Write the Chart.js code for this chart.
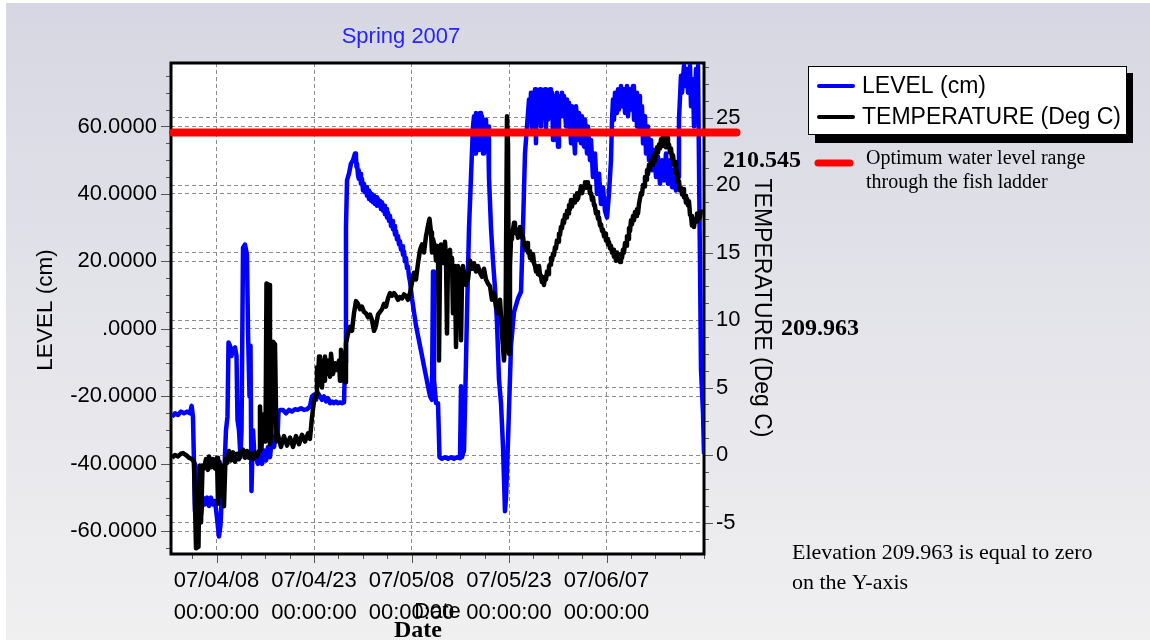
<!DOCTYPE html>
<html>
<head>
<meta charset="utf-8">
<script src="https://cdn.jsdelivr.net/npm/chart.js@4.4.0/dist/chart.umd.min.js"></script>
<style>
html,body{margin:0;padding:0;background:#fff;}
canvas{display:block;}
</style>
</head>
<body>
<canvas id="c" width="1150" height="640"></canvas>
<script>
// ---------- DATA (days since 2007-04-01 00:00) ----------
const levelDays = [
0.15,0.62,1.08,1.54,2.00,2.46,2.92,3.18,3.38,3.54,
3.69,4.00,4.31,4.62,4.92,5.23,5.54,5.85,6.15,6.46,
6.77,7.08,7.38,7.62,7.85,8.15,8.46,8.69,8.85,9.08,
9.31,9.54,9.85,10.08,10.23,10.46,10.69,10.85,11.08,11.38,
11.69,11.85,12.08,12.23,12.38,12.62,12.85,13.08,13.38,13.69,
14.00,14.31,14.62,14.92,15.23,15.54,15.85,16.15,16.38,16.54,
16.77,17.23,17.69,18.15,18.62,19.08,19.54,20.00,20.46,20.92,
21.38,21.69,22.00,22.31,22.62,22.92,23.23,23.54,23.85,24.15,
24.46,24.77,25.08,25.38,25.69,26.00,26.31,26.62,26.77,26.92,
27.08,27.38,27.69,28.00,28.31,28.46,28.54,28.62,28.77,28.85,
28.92,29.08,29.23,29.38,29.54,29.69,29.85,30.00,30.15,30.31,
30.46,30.62,30.77,30.92,31.08,31.23,31.38,31.54,31.69,31.85,
32.00,32.15,32.31,32.46,32.62,32.77,32.92,33.08,33.23,33.38,
33.54,33.69,33.85,34.00,34.15,34.31,34.46,34.62,34.77,34.92,
35.08,35.23,35.38,35.54,35.69,35.85,36.00,36.15,36.31,36.46,
36.62,36.77,37.08,37.38,37.69,38.00,38.31,38.62,38.92,39.23,
39.54,39.85,40.15,40.31,40.46,40.77,41.08,41.31,41.69,42.15,
42.62,43.08,43.54,44.00,44.46,44.62,44.77,45.08,45.38,45.54,
45.85,46.15,46.46,46.62,46.77,46.92,47.08,47.23,47.38,47.54,
47.69,47.85,48.00,48.15,48.31,48.46,48.62,48.77,48.92,49.23,
49.54,49.85,50.15,50.46,50.77,51.08,51.38,51.54,51.85,52.31,
52.77,53.38,53.85,54.15,54.46,54.77,55.08,55.23,55.38,55.54,
55.69,55.85,56.00,56.15,56.31,56.46,56.77,56.92,57.08,57.23,
57.54,57.69,57.85,58.00,58.31,58.46,58.62,58.77,58.92,59.23,
59.38,59.54,59.69,60.00,60.15,60.31,60.46,60.77,60.92,61.08,
61.23,61.54,61.69,62.15,62.31,62.62,62.77,63.08,63.23,63.54,
63.69,64.00,64.15,64.46,64.62,64.92,65.23,65.54,65.85,66.15,
66.46,66.77,67.08,67.38,67.69,67.85,68.00,68.15,68.31,68.62,
68.77,68.92,69.23,69.38,69.69,69.85,70.15,70.31,70.62,70.77,
71.08,71.23,71.54,71.69,72.00,72.15,72.46,72.62,72.92,73.08,
73.38,73.54,73.85,74.00,74.31,74.62,74.92,75.23,75.54,75.85,
76.15,76.46,76.77,77.08,77.38,77.69,78.00,78.15,78.46,78.62,
78.92,79.08,79.38,79.54,79.85,80.00,80.31,80.46,80.77,80.92,
81.08,81.38,81.54,81.85,82.00
];
const levelValues = [
-26,-25,-25.5,-24.5,-25,-24.5,-25,-22.8,-26,-40,
-54,-56,-52,-55,-50,-52,-50,-52.5,-50,-52,
-51,-56,-61.5,-58,-48,-45,-30,-26,-4,-5,
-8,-6,-5.5,-8,-27,-30,-38,-30,24,25,
22,-1,-20,-5,-48,-30,-38,-38,-40,-37,
-40,-36,-39,-35,-38,-32,-35,-31,-33,-24.5,
-24,-24,-25,-24,-24.5,-23.8,-24,-23.5,-24,-23.8,
-23,-20,-19.5,-21,-19,-20,-21,-20,-21.5,-20.5,
-22,-21.5,-22,-21.5,-22,-21.8,-22,-21.8,-10,30,
44,46,49,50,52,51,48,49,45.5,47,
44.5,46,43,44.5,41,43,40.5,42,39.5,41,
38.5,40.5,38,40,37.5,39.5,37,39,36.5,38.5,
36.5,38,35.5,37.5,35,36.5,34,35.5,33,34.5,
32,33.5,30.5,32,29.5,30.5,28,29,26.5,27.5,
25,26,23.5,24.5,22,23,20,21,18,18.5,
15.5,14,9,5,1,-2,-5,-8,-11,-14,
-17,-20,-21,17,-15,-22,-22,-38,-38.5,-38,
-38.5,-38,-38.5,-38,-38.3,-17,-38,-36,-10,5,
30,45,60,63,52,64,55,63,53,64,
56,63,52,62,55,62,53,60,45,30,
20,12,2,-15,-22,-35,-54,-50,-33,-5,
5,9,11,30,52,60,68,62,70,58,
70,61,71,55,70,62,71,60,70,63,
71,59,70,62,71,64,70,56,69,62,
70,54,69,63,70,65,69,60,68,64,
67,55,66,52,66,56,64,55,63,54,
62,52,60,50,56,45,52,40,46,37,
42,35,33,40,50,62,68,62,70,64,
71,65,72,66,71,64,72,63,71,65,
72,62,70,60,69,58,66,55,63,52,
60,50,56,47,53,45,51,43,50,44,
52,43,50,42,47,41,45,62,75,70,
78,72,77,70,78,66,74,60,77,65,
78,20,-12,-25,-37
];
const tempDays = [
0.15,0.62,1.08,1.54,1.85,2.31,2.77,3.23,3.54,3.85,
4.23,4.38,4.62,4.85,5.08,5.38,5.69,5.85,6.15,6.46,
6.77,7.08,7.23,7.46,7.69,7.92,8.15,8.38,8.62,8.92,
9.23,9.54,9.85,10.15,10.46,10.77,11.08,11.38,11.69,12.00,
12.31,12.62,12.92,13.23,13.54,13.69,13.92,14.15,14.38,14.54,
14.69,15.08,15.23,15.46,15.69,16.00,16.23,16.46,16.92,17.38,
17.85,18.31,18.77,19.23,19.69,20.15,20.62,21.08,21.38,21.69,
22.00,22.31,22.46,22.62,22.77,22.92,23.08,23.23,23.38,23.54,
23.69,23.85,24.00,24.15,24.46,24.62,24.92,25.23,25.54,25.85,
26.00,26.15,26.46,26.62,26.77,26.92,27.23,27.54,27.85,28.15,
28.46,28.77,29.08,29.38,29.69,30.00,30.31,30.62,30.92,31.23,
31.54,31.85,32.15,32.46,32.77,33.08,33.38,33.69,34.00,34.31,
34.62,34.92,35.23,35.54,35.85,36.15,36.46,36.77,37.08,37.38,
37.69,38.00,38.31,38.62,38.92,39.23,39.54,39.77,40.00,40.15,
40.31,40.62,40.77,40.92,41.08,41.23,41.38,41.54,41.85,42.00,
42.15,42.31,42.46,42.62,42.92,43.08,43.23,43.38,43.54,43.69,
43.85,44.00,44.15,44.46,44.62,44.77,44.92,45.08,45.38,45.54,
45.69,46.00,46.31,46.62,46.92,47.23,47.54,47.85,48.15,48.46,
48.77,49.08,49.38,49.69,50.00,50.31,50.62,50.92,51.23,51.46,
51.69,51.85,52.00,52.15,
52.31,52.46,52.62,52.77,52.92,53.08,53.23,53.38,53.54,53.69,
53.85,54.00,54.15,54.31,54.46,54.62,54.77,54.92,55.08,55.23,
55.38,55.54,55.69,55.85,56.00,56.15,56.31,56.46,56.62,56.77,
56.92,57.08,57.23,57.38,57.54,57.69,57.85,58.00,58.15,58.31,
58.46,58.62,58.77,58.92,59.08,59.23,59.38,59.54,59.69,59.85,
60.00,60.15,60.31,60.46,60.62,60.77,60.92,61.08,61.23,61.38,
61.54,61.69,61.85,62.00,62.15,62.31,62.46,62.62,62.77,62.92,
63.08,63.23,63.38,63.54,63.69,63.85,64.00,64.15,64.31,64.46,
64.62,64.77,64.92,65.08,65.23,65.38,65.54,65.69,65.85,66.00,
66.15,66.31,66.46,66.62,66.77,66.92,67.08,67.23,67.38,67.54,
67.69,67.85,68.00,68.15,68.31,68.46,68.62,68.77,68.92,69.08,
69.23,69.38,69.54,69.69,69.85,70.00,70.15,70.31,70.46,70.62,
70.77,70.92,71.08,71.23,71.38,71.54,71.69,71.85,72.00,72.15,
72.31,72.46,72.62,72.77,72.92,73.08,73.23,73.38,73.54,73.69,
73.85,74.00,74.15,74.31,74.46,74.62,74.77,74.92,75.08,75.23,
75.38,75.54,75.69,75.85,76.00,76.15,76.31,76.46,76.62,76.77,
76.92,77.08,77.23,77.38,77.54,77.69,77.85,78.00,78.15,78.31,
78.46,78.62,78.77,78.92,79.08,79.23,79.38,79.54,79.69,79.85,
80.00,80.15,80.31,80.46,80.62,80.77,80.92,81.08,81.23,81.38,
81.54
];
const tempValues = [
-0.2,0.0,-0.1,0.1,0.15,0.0,-0.2,-0.3,-0.5,-6.9,
-6.8,-0.8,-5.0,-0.8,-1.0,-0.3,-1.1,-0.1,-0.9,-0.3,
-1.0,-0.2,-3.6,-0.5,-3.0,-0.8,-3.8,-0.3,-0.6,0.3,
-0.4,0.2,-0.5,0.1,-0.3,0.2,0.4,-0.2,0.3,-0.2,
0.1,-0.3,0.2,-0.1,0.3,3.6,0.5,3.0,1.0,1.0,
12.7,12.6,0.8,1.5,8.4,8.2,1.0,1.5,0.6,1.4,
0.7,1.3,0.6,1.4,0.8,1.5,1.0,1.6,1.2,2.8,
4.0,4.5,6.5,5.5,7.3,5.2,7.0,5.0,6.8,5.5,
7.3,6.0,6.5,7.0,5.8,7.5,6.0,6.8,6.3,7.0,
5.5,7.8,6.2,7.6,5.4,8.3,9.0,9.5,9.2,10.5,
11.4,11.2,10.8,11.0,10.6,10.5,10.2,10.4,10.0,9.2,
9.6,10.4,10.6,10.8,11.2,11.0,11.6,12.0,11.8,12.0,
11.8,11.5,11.7,11.6,11.9,11.8,11.5,12.0,12.8,13.5,
13.0,14.2,15.2,15.6,15.0,16.2,17.0,17.5,16.5,15.0,
16.0,15.3,14.4,15.5,14.8,7.0,14.0,15.6,15.0,14.2,
15.8,14.6,9.0,14.8,15.2,13.5,14.6,10.5,14.0,13.2,
8.0,13.0,14.0,13.4,8.5,13.0,14.0,13.5,12.6,13.4,
13.0,14.4,13.8,14.2,13.6,14.0,13.5,13.2,13.8,13.0,
12.7,12.5,11.5,12.0,11.0,10.5,11.5,9.0,7.0,9.0,
25.1,23.0,7.5,14.0,
16.0,16.6,16.7,17.2,16.8,16.4,16.7,16.1,16.4,16.9,
16.5,16.1,16.2,15.6,15.6,15.2,15.7,15.0,15.1,14.6,
14.8,14.4,14.9,14.2,14.0,13.6,13.8,13.4,14.0,13.3,
13.2,12.8,13.0,12.6,13.2,13.0,13.6,13.4,14.0,14.1,
14.6,14.4,14.9,14.8,15.4,15.3,15.9,15.8,16.4,16.3,
16.9,16.8,17.4,17.2,17.8,17.6,18.1,17.9,18.5,18.2,
18.9,18.4,18.8,18.7,19.2,18.9,19.4,19.0,19.4,19.5,
19.9,19.4,19.7,19.8,20.2,19.8,20.2,19.9,19.9,19.4,
19.4,18.9,19.1,18.5,18.4,17.9,18.0,17.5,17.6,17.0,
17.1,16.6,16.7,16.2,16.4,15.9,16.0,15.6,15.8,15.3,
15.5,15.0,15.2,14.7,14.8,14.4,15.0,14.5,14.6,14.3,
14.9,14.6,15.2,15.0,15.7,15.5,16.2,16.0,16.8,16.6,
17.4,17.1,17.7,17.4,18.0,17.7,18.2,17.9,18.6,18.6,
19.4,19.3,20.0,19.9,20.6,20.4,21.1,20.8,21.5,21.2,
21.8,21.5,22.1,21.8,22.4,22.1,22.8,22.4,23.0,22.7,
23.4,22.9,23.6,23.0,23.2,22.8,23.5,22.9,23.0,22.4,
22.7,22.0,22.2,21.5,21.7,20.9,21.0,20.2,20.3,19.6,
19.8,19.3,19.7,19.1,19.2,18.7,19.0,18.5,18.8,17.8,
17.7,17.0,17.2,16.9,17.5,17.3,17.9,17.5,17.9,17.6,
18.2
];
// optimum water level line (210.545 m = 58.2 cm above 209.963 m)
const optimumDays = [0.3, 87.0];
const optimumLevel = [58.2, 58.2];

const xTickDays = [7, 22, 37, 52, 67];
const xTickLabels = [
  ['07/04/08','00:00:00'], ['07/04/23','00:00:00'], ['07/05/08','00:00:00'],
  ['07/05/23','00:00:00'], ['07/06/07','00:00:00']
];
const levelTicks = [-60, -40, -20, 0, 20, 40, 60];
const levelTickLabels = ['-60.0000','-40.0000','-20.0000','.0000','20.0000','40.0000','60.0000'];
const tempTicks = [-5, 0, 5, 10, 15, 20, 25];
const tempTickLabels = ['-5','0','5','10','15','20','25'];

// ---------- STYLE / LAYOUT ----------
const SANS = '"Liberation Sans", Arial, Helvetica, sans-serif';
const SERIF = '"Liberation Serif", "Times New Roman", Times, serif';
const AREA = {left: 171, right: 704, top: 63, bottom: 554};
const GRID = '#8c8c8c';
const W = 1150, H = 640;

function withMinor(majors, sub, min, max) {
  const step = (majors[1] - majors[0]) / sub;
  const out = [];
  const eps = 1e-6;
  for (let v = majors[0]; v >= min - eps; v -= step) out.unshift(v);
  for (let v = majors[0] + step; v <= max + eps; v += step) out.push(v);
  return out.map(v => ({value: +v.toFixed(6)}));
}
function idxOf(v, majors) { return majors.findIndex(m => Math.abs(m - v) < 1e-6); }
function gridColor(majors) {
  return ctx => (ctx.tick && idxOf(ctx.tick.value, majors) >= 0) ? GRID : 'rgba(0,0,0,0)';
}

const framePlugin = {
  id: 'frame',
  beforeDraw(chart) {
    const c = chart.ctx;
    c.save();
    c.fillStyle = '#ffffff';
    c.fillRect(0, 0, W, H);
    const g = c.createLinearGradient(0, 0, 0, H);
    g.addColorStop(0, '#d7d7e3');
    g.addColorStop(1, '#f0f0f1');
    c.fillStyle = g;
    c.fillRect(6, 3, W - 6, H - 3);
    c.fillStyle = '#ffffff';
    c.fillRect(AREA.left, AREA.top, AREA.right - AREA.left, AREA.bottom - AREA.top);
    c.restore();
  },
  beforeDatasetsDraw(chart) {
    const c = chart.ctx;
    c.save();
    c.strokeStyle = '#555';
    c.lineWidth = 1;
    const sx = chart.scales.x, sy = chart.scales.y, st = chart.scales.t;
    c.beginPath();
    sx.ticks.forEach(t => {
      const p = Math.round(sx.getPixelForValue(t.value)) + 0.5;
      const len = idxOf(t.value, xTickDays) >= 0 ? 9 : 5;
      c.moveTo(p, AREA.bottom); c.lineTo(p, AREA.bottom + len);
    });
    sy.ticks.forEach(t => {
      const p = Math.round(sy.getPixelForValue(t.value)) + 0.5;
      const len = idxOf(t.value, levelTicks) >= 0 ? 10 : 5;
      c.moveTo(AREA.left, p); c.lineTo(AREA.left - len, p);
    });
    st.ticks.forEach(t => {
      const p = Math.round(st.getPixelForValue(t.value)) + 0.5;
      const len = idxOf(t.value, tempTicks) >= 0 ? 9 : 5;
      c.moveTo(AREA.right, p); c.lineTo(AREA.right + len, p);
    });
    c.stroke();
    c.strokeStyle = '#000';
    c.lineWidth = 3;
    c.strokeRect(AREA.left, AREA.top, AREA.right - AREA.left, AREA.bottom - AREA.top);
    c.restore();
  },
  afterDraw(chart) {
    const c = chart.ctx;
    const txt = (s, x, y, font, color, align) => {
      c.font = font; c.fillStyle = color || '#000';
      c.textAlign = align || 'left'; c.textBaseline = 'middle';
      c.fillText(s, x, y);
    };
    c.save();
    txt('Spring 2007', 401, 37, '22px ' + SANS, '#2424ff', 'center');
    c.save(); c.translate(46, 310); c.rotate(-Math.PI / 2);
    txt('LEVEL (cm)', 0, 0, '22.5px ' + SANS, '#000', 'center'); c.restore();
    c.save(); c.translate(761, 308); c.rotate(Math.PI / 2);
    txt('TEMPERATURE (Deg C)', 0, 0, '23px ' + SANS, '#000', 'center'); c.restore();
    txt('Date', (AREA.left + AREA.right) / 2, 612, '22px ' + SANS, '#000', 'center');
    txt('Date', 418, 631, 'bold 24px ' + SERIF, '#000', 'center');
    // legend box with drop shadow
    c.fillStyle = '#000';
    c.fillRect(815, 73, 318, 70);
    c.fillStyle = '#fff';
    c.fillRect(808, 66, 319, 69);
    c.strokeStyle = '#000'; c.lineWidth = 1;
    c.strokeRect(808.5, 66.5, 318, 68);
    c.lineCap = 'round';
    c.lineWidth = 4;
    c.strokeStyle = '#0000ff';
    c.beginPath(); c.moveTo(819, 86); c.lineTo(853, 86); c.stroke();
    c.strokeStyle = '#000';
    c.beginPath(); c.moveTo(819, 117); c.lineTo(853, 117); c.stroke();
    txt('LEVEL (cm)', 862, 87, '23px ' + SANS, '#000', 'left');
    txt('TEMPERATURE (Deg C)', 862, 118, '23px ' + SANS, '#000', 'left');
    // annotations
    txt('210.545', 723, 161, 'bold 24px ' + SERIF, '#000', 'left');
    c.strokeStyle = '#ff0000'; c.lineWidth = 7; c.lineCap = 'round';
    c.beginPath(); c.moveTo(818, 163); c.lineTo(850, 163); c.stroke();
    txt('Optimum water level range', 866, 159, '20px ' + SERIF, '#000', 'left');
    txt('through the fish ladder', 866, 183, '20px ' + SERIF, '#000', 'left');
    txt('209.963', 781, 329, 'bold 24px ' + SERIF, '#000', 'left');
    txt('Elevation 209.963 is equal to zero', 792, 553, '22px ' + SERIF, '#000', 'left');
    txt('on the Y-axis', 792, 583, '22px ' + SERIF, '#000', 'left');
    c.restore();
  }
};

const toXY = (xs, ys) => xs.map((d, i) => ({x: d, y: ys[i]}));

new Chart(document.getElementById('c'), {
  type: 'line',
  data: {
    datasets: [
      { label: 'LEVEL (cm)', data: toXY(levelDays, levelValues), xAxisID: 'x', yAxisID: 'y',
        borderColor: '#0000ff', borderWidth: 4.5, pointRadius: 0, tension: 0,
        borderJoinStyle: 'round', order: 2 },
      { label: 'TEMPERATURE (Deg C)', data: toXY(tempDays, tempValues), xAxisID: 'x', yAxisID: 't',
        borderColor: '#000000', borderWidth: 4.5, pointRadius: 0, tension: 0,
        borderJoinStyle: 'round', order: 1 },
      { label: 'Optimum', data: toXY(optimumDays, optimumLevel), xAxisID: 'x', yAxisID: 'y',
        borderColor: '#ff0000', borderWidth: 8, pointRadius: 0, borderCapStyle: 'round',
        clip: false, order: 0 }
    ]
  },
  options: {
    responsive: false,
    animation: false,
    devicePixelRatio: 1,
    layout: { padding: { top: AREA.top, left: 0, right: 0, bottom: 0 } },
    plugins: { legend: { display: false }, title: { display: false }, tooltip: { enabled: false } },
    scales: {
      x: {
        type: 'linear', position: 'bottom', min: 0, max: 82, bounds: 'data',
        afterBuildTicks: s => { s.ticks = withMinor(xTickDays, 4, s.min, s.max); },
        afterFit: s => { s.height = H - AREA.bottom; },
        grid: { color: gridColor(xTickDays), drawTicks: false, lineWidth: 1 },
        border: { display: false, dash: [4, 3] },
        ticks: { autoSkip: false, maxRotation: 0, minRotation: 0, padding: 11, color: '#000',
          font: { family: SANS, size: 22, lineHeight: 1.4545 },
          callback: v => { const i = idxOf(v, xTickDays); return i >= 0 ? xTickLabels[i] : ''; } }
      },
      y: {
        type: 'linear', position: 'left', min: -66.7, max: 78.8, bounds: 'data',
        afterBuildTicks: s => { s.ticks = withMinor(levelTicks, 4, s.min, s.max); },
        afterFit: s => { s.width = AREA.left; },
        grid: { color: gridColor(levelTicks), drawTicks: false, lineWidth: 1 },
        border: { display: false, dash: [4, 3] },
        ticks: { autoSkip: false, padding: 14, color: '#000', font: { family: SANS, size: 22 },
          callback: v => { const i = idxOf(v, levelTicks); return i >= 0 ? levelTickLabels[i] : ''; } }
      },
      t: {
        type: 'linear', position: 'right', min: -7.33, max: 29.04, bounds: 'data',
        afterBuildTicks: s => { s.ticks = withMinor(tempTicks, 4, s.min, s.max); },
        afterFit: s => { s.width = W - AREA.right; },
        grid: { color: gridColor(tempTicks), drawTicks: false, lineWidth: 1 },
        border: { display: false, dash: [4, 3] },
        ticks: { autoSkip: false, padding: 12, color: '#000', font: { family: SANS, size: 22 },
          callback: v => { const i = idxOf(v, tempTicks); return i >= 0 ? tempTickLabels[i] : ''; } }
      }
    }
  },
  plugins: [framePlugin]
});
</script>
</body>
</html>
